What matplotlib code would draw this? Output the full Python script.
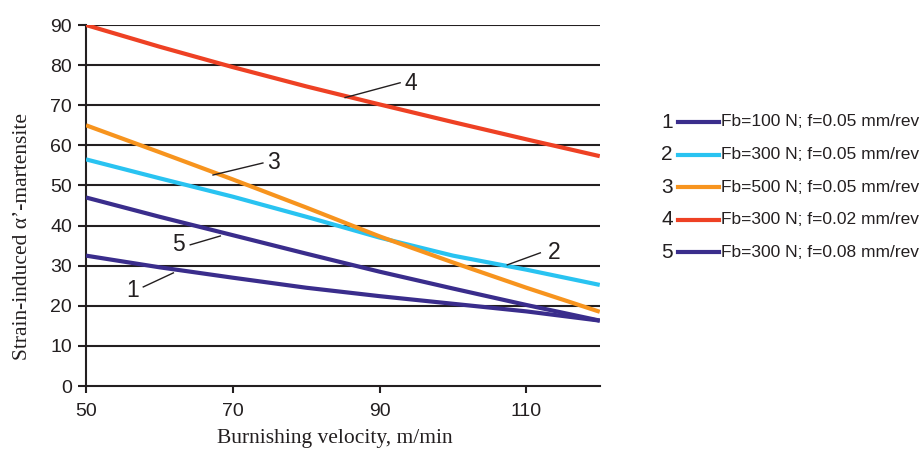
import matplotlib
matplotlib.use('Agg')
import matplotlib.pyplot as plt
from matplotlib.lines import Line2D

# burnishing velocity, m/min
velocity = [50, 60, 70, 80, 90, 100, 110, 120]

# strain-induced alpha'-martensite
curve_1 = [32.5, 29.6, 27.0, 24.5, 22.4, 20.5, 18.6, 16.3]
curve_2 = [56.5, 51.8, 47.2, 42.2, 37.0, 32.5, 29.0, 25.2]
curve_3 = [65.0, 58.3, 51.5, 44.5, 37.3, 30.8, 24.5, 18.5]
curve_4 = [90.0, 84.6, 79.5, 74.7, 70.2, 65.8, 61.5, 57.3]
curve_5 = [47.0, 42.2, 37.6, 33.0, 28.5, 24.3, 20.2, 16.3]

curve_ids = ['1', '2', '3', '4', '5']
curve_labels = ['Fb=100 N; f=0.05 mm/rev', 'Fb=300 N; f=0.05 mm/rev',
                'Fb=500 N; f=0.05 mm/rev', 'Fb=300 N; f=0.02 mm/rev',
                'Fb=300 N; f=0.08 mm/rev']
curve_colors = ['#3A2D8C', '#29C3F1', '#F7941E', '#EE4124', '#3A2D8C']

x_ticks = [50, 70, 90, 110]
y_ticks = list(range(0, 100, 10))

plt.rcParams['font.family'] = ['Liberation Sans', 'DejaVu Sans']
serif = ['Liberation Serif', 'DejaVu Serif']
ink = '#231F20'

fig = plt.figure(figsize=(9.24, 4.53), dpi=100)
ax = fig.add_axes([0.0931, 0.1479, 0.556, 0.7969])

series = [curve_1, curve_2, curve_3, curve_4, curve_5]
for vals, col in zip(series, curve_colors):
    ax.plot(velocity, vals, color=col, lw=3, solid_capstyle='butt', zorder=3)

# horizontal grid
for yv in y_ticks[1:]:
    ax.axhline(yv, color=ink, lw=1.5, zorder=1)

ax.set_xlim(50, 120)
ax.set_ylim(0, 90)
ax.set_xticks(x_ticks)
ax.set_yticks(y_ticks)
ax.tick_params(axis='y', length=6, width=1.5, color=ink, labelsize=14,
               labelcolor=ink, pad=4)
ax.tick_params(axis='x', length=5, width=1.5, color=ink, labelsize=14,
               labelcolor=ink, pad=7)
for side in ['top', 'right']:
    ax.spines[side].set_visible(False)
for side in ['left', 'bottom']:
    ax.spines[side].set_color(ink)
    ax.spines[side].set_linewidth(1.5)

ax.set_xlabel('Burnishing velocity, m/min', family=serif, fontsize=15.5, color=ink)
ax.xaxis.set_label_coords(0.484, -0.118)
ax.set_ylabel('Strain-induced α’-martensite', family=serif, fontsize=15.5, color=ink)
ax.yaxis.set_label_coords(-0.106, 0.415)

# curve numbers with leader lines
callouts = [
    ('1', (56.3, 23.9), (57.8, 24.7), (61.9, 28.2)),
    ('2', (113.8, 33.2), (111.9, 33.2), (107.4, 30.2)),
    ('3', (75.5, 55.6), (74.1, 55.6), (67.3, 52.6)),
    ('4', (94.3, 75.3), (92.8, 75.6), (85.3, 71.9)),
    ('5', (62.6, 35.2), (64.2, 35.2), (68.3, 37.4)),
]
for txt, pos, p0, p1 in callouts:
    ax.plot([p0[0], p1[0]], [p0[1], p1[1]], color=ink, lw=1, zorder=4)
    ax.text(pos[0], pos[1], txt, fontsize=16.5, color=ink,
            ha='center', va='center', zorder=5)

# legend drawn by hand: number, short line, description
W, H = 924, 453
for i, (num, lab, col) in enumerate(zip(curve_ids, curve_labels, curve_colors)):
    yy = 1 - (122 + i * 32.6) / H
    fig.text(667 / W, yy, num, fontsize=15, color=ink, ha='center', va='center')
    fig.add_artist(Line2D([678 / W, 719 / W], [yy, yy], color=col, lw=3,
                          transform=fig.transFigure))
    fig.text(721 / W, yy, lab, fontsize=12.5, color=ink, ha='left', va='center')

fig.savefig('out.png', dpi=100)
